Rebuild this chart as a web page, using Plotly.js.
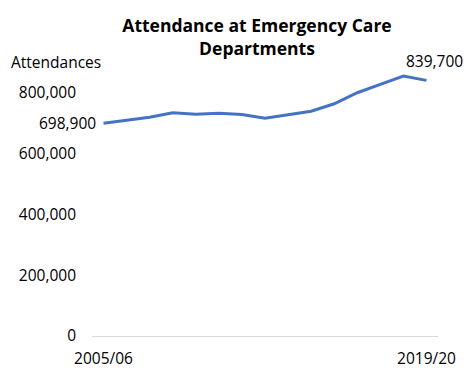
<!DOCTYPE html>
<html><head><meta charset="utf-8">
<script src="https://cdn.plot.ly/plotly-3.0.1.min.js"></script>
<style>html,body{margin:0;padding:0;background:#fff}#c{width:469px;height:368px}</style>
</head><body><div id="c"></div>
<script>
const years = ["2005/06","2006/07","2007/08","2008/09","2009/10","2010/11","2011/12","2012/13","2013/14","2014/15","2015/16","2016/17","2017/18","2018/19","2019/20"];
const attendances = [698900,709900,718700,733000,728600,731900,727500,715400,727500,738500,762700,799000,826500,854000,839700];
const yTicks = [0,200000,400000,600000,800000];
const yTickText = ["0","200,000","400,000","600,000","800,000"];
const font = "Open Sans, Lato, Liberation Sans, sans-serif";
const n = years.length;
const idx = years.map((_, i) => i);

Plotly.newPlot('c', [{
  x: idx, y: attendances, type: 'scatter', mode: 'lines',
  line: {color: '#4472C4', width: 3}, hoverinfo: 'skip'
}], {
  width: 469, height: 368,
  margin: {l: 92, r: 31, t: 62, b: 32},
  paper_bgcolor: '#fff', plot_bgcolor: '#fff',
  showlegend: false,
  font: {family: font, size: 15, color: '#000'},
  title: {text: '<b>Attendance at Emergency Care<br>Departments</b>', x: 0.548, xanchor: 'center', yref: 'container', y: 0.913, yanchor: 'middle', font: {family: font, size: 17.5, color: '#000'}},
  xaxis: {range: [-0.5, n - 0.5], tickvals: [0, n - 1], ticktext: [years[0], years[n - 1]], showgrid: false, zeroline: false, showline: true, linecolor: '#d9d9d9', linewidth: 1, ticks: '', ticklabelstandoff: 8, tickfont: {size: 15.5}},
  yaxis: {range: [0, 900000], tickvals: yTicks, ticktext: yTickText, showgrid: false, zeroline: false, showline: false, ticks: '', ticklabelstandoff: 15, tickfont: {size: 15.5}},
  annotations: [
    {xref: 'paper', yref: 'paper', x: -0.24, y: 1.0, text: 'Attendances', showarrow: false, xanchor: 'left', yanchor: 'middle', font: {size: 15.5}},
    {xref: 'x', yref: 'y', x: 0, y: attendances[0], text: attendances[0].toLocaleString('en-US'), showarrow: false, xanchor: 'right', yanchor: 'middle', xshift: -6, font: {size: 15.5}},
    {xref: 'x', yref: 'y', x: n - 1, y: attendances[n - 1], text: attendances[n - 1].toLocaleString('en-US'), showarrow: false, xanchor: 'center', yanchor: 'bottom', xshift: 8, yshift: 6, font: {size: 15.5}}
  ]
}, {displayModeBar: false, staticPlot: true});
</script></body></html>
